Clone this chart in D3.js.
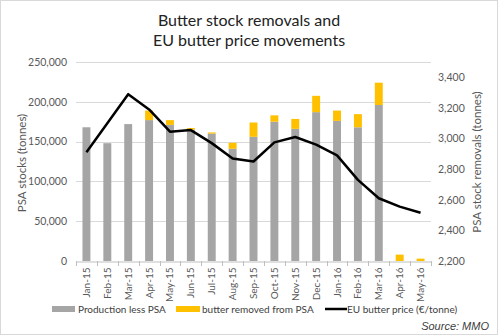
<!DOCTYPE html>
<html>
<head>
<meta charset="utf-8">
<script src="https://cdn.jsdelivr.net/npm/d3@7"></script>
<style>
  body { margin: 0; background: #fff; }
  svg { font-family: Lato, "Open Sans", sans-serif; }
</style>
</head>
<body>
<svg id="chart" width="498" height="335"></svg>
<script>
const months = ["Jan-15", "Feb-15", "Mar-15", "Apr-15", "May-15", "Jun-15", "Jul-15", "Aug-15",
  "Sep-15", "Oct-15", "Nov-15", "Dec-15", "Jan-16", "Feb-16", "Mar-16", "Apr-16", "May-16"];
const productionLessPSA = [168000, 148000, 172000, 177000, 171000, 165000, 160000, 141000,
  156000, 175000, 166000, 187000, 176000, 168000, 196000, 0, 0];
const removedFromPSA = [0, 0, 0, 12000, 6000, 2000, 1500, 7500,
  18000, 8000, 12500, 20500, 13000, 16500, 28000, 8000, 3000];
const euButterPrice = [2910, 3100, 3290, 3190, 3045, 3055, 2970, 2870,
  2850, 2975, 3010, 2960, 2890, 2730, 2610, 2555, 2515];
const leftTicks = [0, 50000, 100000, 150000, 200000, 250000];
const rightTicks = [2200, 2400, 2600, 2800, 3000, 3200, 3400];

const grey = "#a5a5a5", gold = "#ffc000", textCol = "#595959";
const svg = d3.select("#chart");

svg.append("rect")
  .attr("x", 0.5).attr("y", 0.5).attr("width", 497).attr("height", 334)
  .attr("fill", "#fff").attr("stroke", "#d9d9d9");

const plot = { left: 76, right: 431, top: 62, bottom: 261 };

const x = d3.scaleBand().domain(months).range([plot.left, plot.right]).paddingInner(0.62).paddingOuter(0.31);
const xOuter = d3.scaleBand().domain(months).range([plot.left, plot.right]);
const yLeft = d3.scaleLinear().domain([0, 250000]).range([plot.bottom, plot.top]);
const yRight = d3.scaleLinear().domain([2200, 3500]).range([plot.bottom, plot.top]);

// title
svg.append("text").attr("x", 249).attr("y", 26).attr("text-anchor", "middle")
  .attr("font-size", 16).attr("fill", "#222")
  .selectAll("tspan").data(["Butter stock removals and", "EU butter price movements"])
  .join("tspan").attr("x", 249).attr("dy", (d, i) => i ? 20 : 0).text(d => d);

// gridlines
svg.append("g").selectAll("line").data(leftTicks.slice(1)).join("line")
  .attr("x1", plot.left).attr("x2", plot.right)
  .attr("y1", d => Math.round(yLeft(d)) + 0.5).attr("y2", d => Math.round(yLeft(d)) + 0.5)
  .attr("stroke", "#d9d9d9");

// left axis labels
const leftAxis = svg.append("g").attr("transform", `translate(${plot.left - 9},0)`)
  .call(d3.axisLeft(yLeft).tickValues(leftTicks).tickFormat(d3.format(",")).tickSize(0).tickPadding(0));
leftAxis.select(".domain").remove();
leftAxis.selectAll("text").attr("font-size", 10.5).attr("fill", textCol).attr("font-family", "Lato");

// right axis labels
const rightAxis = svg.append("g").attr("transform", `translate(${plot.right + 7},0)`)
  .call(d3.axisRight(yRight).tickValues(rightTicks).tickFormat(d3.format(",")).tickSize(0).tickPadding(0));
rightAxis.select(".domain").remove();
rightAxis.selectAll("text").attr("font-size", 10.5).attr("fill", textCol).attr("font-family", "Lato");

// axis titles
svg.append("text").attr("transform", "translate(26,163) rotate(-90)")
  .attr("text-anchor", "middle").attr("font-size", 11.5).attr("fill", textCol)
  .text("PSA stocks (tonnes)");
svg.append("text").attr("transform", "translate(481,162) rotate(-90)")
  .attr("text-anchor", "middle").attr("font-size", 11.5).attr("fill", textCol)
  .text("PSA stock removals (tonnes)");

// stacked bars
const stack = d3.stack().keys(["prod", "removed"])(
  months.map((m, i) => ({ month: m, prod: productionLessPSA[i], removed: removedFromPSA[i] })));
const colors = { prod: grey, removed: gold };
svg.append("g").selectAll("g").data(stack).join("g")
  .attr("fill", s => colors[s.key])
  .selectAll("rect").data(s => s).join("rect")
  .attr("x", d => x(d.data.month))
  .attr("width", x.bandwidth())
  .attr("y", d => yLeft(d[1]))
  .attr("height", d => yLeft(d[0]) - yLeft(d[1]));

// x axis with category ticks
const xAxis = svg.append("g").attr("transform", `translate(0,${plot.bottom + 0.5})`)
  .call(d3.axisBottom(x).tickSize(0).tickPadding(0));
xAxis.select(".domain").attr("stroke", "#bfbfbf");
xAxis.selectAll("text")
  .attr("font-size", 10).attr("fill", textCol).attr("font-family", "Lato")
  .attr("text-anchor", "end").attr("dy", "0.35em")
  .attr("transform", "translate(0,6) rotate(-90)").attr("x", 0).attr("y", 0);
svg.append("g").selectAll("line").data(months.concat(["end"])).join("line")
  .attr("x1", (d, i) => Math.round(plot.left + i * xOuter.step()) + 0.5)
  .attr("x2", (d, i) => Math.round(plot.left + i * xOuter.step()) + 0.5)
  .attr("y1", plot.bottom).attr("y2", plot.bottom + 5)
  .attr("stroke", "#bfbfbf");

// price line
svg.append("path").datum(euButterPrice)
  .attr("fill", "none").attr("stroke", "#000").attr("stroke-width", 2.5)
  .attr("stroke-linejoin", "round")
  .attr("d", d3.line().x((d, i) => xOuter(months[i]) + xOuter.bandwidth() / 2).y(d => yRight(d)));

// legend
const legend = svg.append("g").attr("font-size", 10).attr("fill", "#404040");
legend.append("rect").attr("x", 52).attr("y", 306).attr("width", 23).attr("height", 6).attr("fill", grey);
legend.append("text").attr("x", 78).attr("y", 313).attr("fill", "#404040").text("Production less PSA");
legend.append("rect").attr("x", 176).attr("y", 306).attr("width", 24).attr("height", 6).attr("fill", gold);
legend.append("text").attr("x", 202).attr("y", 313).attr("fill", "#404040").text("butter removed from PSA");
legend.append("line").attr("x1", 325).attr("x2", 347).attr("y1", 309).attr("y2", 309)
  .attr("stroke", "#000").attr("stroke-width", 2.5);
legend.append("text").attr("x", 347).attr("y", 313).attr("fill", "#404040").text("EU butter price (€/tonne)");

svg.append("text").attr("x", 489).attr("y", 330).attr("text-anchor", "end")
  .attr("font-size", 11).attr("font-style", "italic").attr("fill", "#404040")
  .attr("font-family", "Liberation Sans, Arial, sans-serif")
  .text("Source: MMO");
</script>
</body>
</html>
